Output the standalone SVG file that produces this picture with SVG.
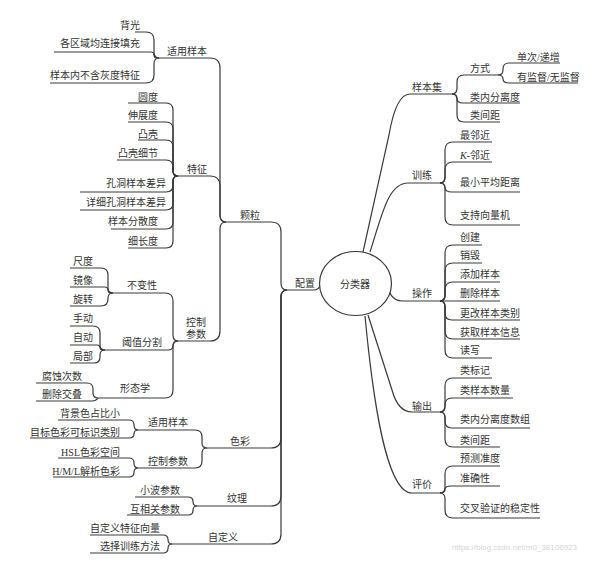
<svg xmlns="http://www.w3.org/2000/svg" width="612" height="564" viewBox="0 0 612 564">
<style>
text{font-family:"Liberation Serif","Noto Sans CJK SC",serif;font-size:10px;fill:#333}
.e{text-anchor:end}
#connectors path{fill:none;stroke:#3a3a3a;stroke-width:1.2}
.wm{font-family:"Liberation Sans",sans-serif;font-size:8px;fill:#d6d6d6}
</style>
<rect width="612" height="564" fill="#fff"/>
<g id="connectors">
<!-- root to level1 -->
<path d="M287,290 H314 Q318,290 320,286"/>
<path d="M363,252 L389,135 Q396,94 410,94 H452"/>
<path d="M370,252 C382,215 388,183 408,183 H440"/>
<path d="M389,291 Q393,301 402,301 H440"/>
<path d="M368,315 L392,390 Q398,412 412,412 H440"/>
<path d="M365,316 C372,390 385,493 412,493 H440"/>
<!-- 配置 children -->
<path d="M226,222 H271 Q281,222 281,232 V283 Q281,290 287,290"/>
<path d="M207,448 H271 Q281,448 281,438 V297 Q281,290 287,290"/>
<path d="M197,506 H271 Q281,506 281,496 V297 Q281,290 287,290"/>
<path d="M172,544 H271 Q281,544 281,534 V297 Q281,290 287,290"/>
<!-- 颗粒 children -->
<path d="M159,58 H210 Q220,58 220,68 V215 Q220,222 226,222"/>
<path d="M178,176 H210 Q220,176 220,186 V215 Q220,222 226,222"/>
<path d="M178,341 H210 Q220,341 220,331 V229 Q220,222 226,222"/>
<!-- 适用样本 children -->
<path d="M135,32 H146 Q154,32 154,40 V52 Q154,58 159,58"/>
<path d="M54,52 H151 Q154,52 154,55 Q154,58 157,58 H159"/>
<path d="M50,83 H146 Q154,83 154,75 V64 Q154,58 159,58"/>
<!-- 特征 children -->
<path d="M128,103 H166 Q173,103 173,110 V171 Q173,176 178,176"/>
<path d="M128,122 H166 Q173,122 173,129 V171 Q173,176 178,176"/>
<path d="M138,140 H166 Q173,140 173,147 V171 Q173,176 178,176"/>
<path d="M117,160 H166 Q173,160 173,167 V171 Q173,176 178,176"/>
<path d="M80,192 H166 Q173,192 173,185 V181 Q173,176 178,176"/>
<path d="M80,210 H166 Q173,210 173,203 V181 Q173,176 178,176"/>
<path d="M111,229 H166 Q173,229 173,222 V181 Q173,176 178,176"/>
<path d="M128,248 H166 Q173,248 173,241 V181 Q173,176 178,176"/>
<!-- 控制参数 children -->
<path d="M113,293 H165 Q173,293 173,301 V335 Q173,341 178,341"/>
<path d="M105,350 H168 Q173,350 173,345.5 Q173,341 178,341"/>
<path d="M98,398 H165 Q173,398 173,390 V347 Q173,341 178,341"/>
<!-- 不变性 children -->
<path d="M70,268 H101 Q108,268 108,275 V288 Q108,293 113,293"/>
<path d="M70,287 H105 Q108,287 108,290 Q108,293 111,293 H113"/>
<path d="M70,306 H101 Q108,306 108,299 V298 Q108,293 113,293"/>
<!-- 阈值分割 children -->
<path d="M70,326 H93 Q100,326 100,333 V345 Q100,350 105,350"/>
<path d="M70,345 H97 Q100,345 100,347.5 Q100,350 103,350 H105"/>
<path d="M70,363 H94 Q100,363 100,357 V355 Q100,350 105,350"/>
<!-- 形态学 children -->
<path d="M36,383 H87 Q93,383 93,389 V393 Q93,398 98,398"/>
<path d="M36,401 H92 Q96,401 98,398"/>
<!-- 色彩 children -->
<path d="M138,430 H195 Q202,430 202,437 V443 Q202,448 207,448"/>
<path d="M138,468 H195 Q202,468 202,461 V453 Q202,448 207,448"/>
<path d="M58,420 H129 Q134,420 134,425 Q134,430 138,430"/>
<path d="M30,438 H129 Q134,438 134,434 Q134,430 138,430"/>
<path d="M58,458 H129 Q134,458 134,463 Q134,468 138,468"/>
<path d="M53,477 H129 Q134,477 134,472.5 Q134,468 138,468"/>
<!-- 纹理 children -->
<path d="M135,497 H188 Q193,497 193,501.5 Q193,506 197,506"/>
<path d="M127,515 H188 Q193,515 193,510.5 Q193,506 197,506"/>
<!-- 自定义 children -->
<path d="M90,535 H163 Q168,535 168,539.5 Q168,544 172,544"/>
<path d="M90,553 H163 Q168,553 168,548.5 Q168,544 172,544"/>
<!-- 样本集 children -->
<path d="M452,94 Q457,94 457,88 V82 Q457,75 464,75 H498"/>
<path d="M452,94 Q457,94 457,98.5 Q457,103 463,103 H520"/>
<path d="M452,94 Q457,94 457,100 V115 Q457,122 464,122 H500"/>
<path d="M498,75 Q503,75 503,70 V69 Q503,63 509,63 H560"/>
<path d="M498,75 Q503,75 503,79 Q503,83 509,83 H578"/>
<!-- 训练 children -->
<path d="M440,183 Q445,183 445,177 V150 Q445,142 453,142 H492"/>
<path d="M440,183 Q445,183 445,177 V170 Q445,162 453,162 H492"/>
<path d="M440,183 Q445,183 445,187.5 Q445,192 452,192 H520"/>
<path d="M440,183 Q445,183 445,189 V217 Q445,225 453,225 H520"/>
<!-- 操作 children -->
<path d="M440,301 Q445,301 445,295 V253 Q445,245 453,245 H482"/>
<path d="M440,301 Q445,301 445,295 V271 Q445,263 453,263 H482"/>
<path d="M440,301 Q445,301 445,295 V290 Q445,282 453,282 H500"/>
<path d="M440,301 H500"/>
<path d="M440,301 Q445,301 445,306 V313 Q445,320 452,320 H520"/>
<path d="M440,301 Q445,301 445,307 V331 Q445,339 453,339 H520"/>
<path d="M440,301 Q445,301 445,307 V350 Q445,358 453,358 H492"/>
<!-- 输出 children -->
<path d="M440,412 Q445,412 445,406 V386 Q445,378 453,378 H492"/>
<path d="M440,412 Q445,412 445,406 V405 Q445,398 452,398 H513"/>
<path d="M440,412 Q445,412 445,417 V421 Q445,428 452,428 H530"/>
<path d="M440,412 Q445,412 445,418 V439 Q445,447 453,447 H500"/>
<!-- 评价 children -->
<path d="M440,493 Q445,493 445,487 V474 Q445,466 453,466 H500"/>
<path d="M440,493 Q445,493 445,489.5 Q445,486 451,486 H500"/>
<path d="M440,493 Q445,493 445,499 V510 Q445,518 453,518 H540"/>
</g>
<g id="root"><ellipse cx="355.5" cy="283.5" rx="36" ry="32" fill="#fff" stroke="#3a3a3a" stroke-width="1.2"/><text x="355" y="288" text-anchor="middle">分类器</text></g>
<g id="n-peizhi"><text x="295" y="287">配置</text></g>
<g id="n-keli"><text x="240" y="219">颗粒</text></g>
<g id="n-shiyong1"><text x="167" y="55">适用样本</text></g>
<g id="n-beiguang"><text class="e" x="140" y="29">背光</text></g>
<g id="n-gequyu"><text class="e" x="140" y="47">各区域均连接填充</text></g>
<g id="n-yangbennei"><text class="e" x="140" y="79">样本内不含灰度特征</text></g>
<g id="n-tezheng"><text x="187" y="173">特征</text></g>
<g id="n-yuandu"><text class="e" x="158" y="101">圆度</text></g>
<g id="n-shenzhan"><text class="e" x="158" y="119">伸展度</text></g>
<g id="n-tuke"><text class="e" x="158" y="138">凸壳</text></g>
<g id="n-tukexijie"><text class="e" x="158" y="157">凸壳细节</text></g>
<g id="n-kongdong"><text class="e" x="166" y="187">孔洞样本差异</text></g>
<g id="n-xiangxi"><text class="e" x="166" y="206">详细孔洞样本差异</text></g>
<g id="n-fensan"><text class="e" x="158" y="225">样本分散度</text></g>
<g id="n-xichang"><text class="e" x="158" y="245">细长度</text></g>
<g id="n-kongzhi1"><text x="186" y="326">控制</text><text x="186" y="338">参数</text></g>
<g id="n-bubian"><text x="127" y="289">不变性</text></g>
<g id="n-chidu"><text x="73" y="265">尺度</text></g>
<g id="n-jingxiang"><text x="73" y="284">镜像</text></g>
<g id="n-xuanzhuan"><text x="73" y="303">旋转</text></g>
<g id="n-yuzhi"><text x="122" y="346">阈值分割</text></g>
<g id="n-shoudong"><text x="73" y="322">手动</text></g>
<g id="n-zidong"><text x="73" y="341">自动</text></g>
<g id="n-jubu"><text x="73" y="360">局部</text></g>
<g id="n-xingtai"><text x="120" y="392">形态学</text></g>
<g id="n-fushi"><text x="42" y="380">腐蚀次数</text></g>
<g id="n-shanchu"><text x="42" y="398">删除交叠</text></g>
<g id="n-secai"><text x="230" y="445">色彩</text></g>
<g id="n-shiyong2"><text x="148" y="426">适用样本</text></g>
<g id="n-beijing"><text class="e" x="120" y="417">背景色占比小</text></g>
<g id="n-mubiao"><text class="e" x="120" y="436">目标色彩可标识类别</text></g>
<g id="n-kongzhi2"><text x="148" y="465">控制参数</text></g>
<g id="n-hsl"><text class="e" x="120" y="456">HSL色彩空间</text></g>
<g id="n-hml"><text class="e" x="120" y="475">H/M/L解析色彩</text></g>
<g id="n-wenli"><text x="227" y="502">纹理</text></g>
<g id="n-xiaobo"><text class="e" x="180" y="494">小波参数</text></g>
<g id="n-huxiang"><text class="e" x="180" y="513">互相关参数</text></g>
<g id="n-zidingyi"><text x="208" y="541">自定义</text></g>
<g id="n-tezhengxl"><text class="e" x="160" y="532">自定义特征向量</text></g>
<g id="n-xuanze"><text class="e" x="160" y="550">选择训练方法</text></g>
<g id="n-yangbenji"><text x="412" y="91">样本集</text></g>
<g id="n-fangshi"><text x="470" y="72">方式</text></g>
<g id="n-danci"><text x="517" y="61">单次/递增</text></g>
<g id="n-jiandu"><text x="517" y="81">有监督/无监督</text></g>
<g id="n-leinei1"><text x="470" y="101">类内分离度</text></g>
<g id="n-leijian1"><text x="470" y="119">类间距</text></g>
<g id="n-xunlian"><text x="412" y="179">训练</text></g>
<g id="n-zuilin"><text x="460" y="139">最邻近</text></g>
<g id="n-klin"><text x="460" y="159"><tspan font-style="italic">K</tspan>-邻近</text></g>
<g id="n-zuixiao"><text x="460" y="186">最小平均距离</text></g>
<g id="n-svm"><text x="460" y="219">支持向量机</text></g>
<g id="n-caozuo"><text x="412" y="297">操作</text></g>
<g id="n-chuangjian"><text x="460" y="241">创建</text></g>
<g id="n-xiaohui"><text x="460" y="259">销毁</text></g>
<g id="n-tianjia"><text x="460" y="278">添加样本</text></g>
<g id="n-shanchuyb"><text x="460" y="297">删除样本</text></g>
<g id="n-genggai"><text x="460" y="317">更改样本类别</text></g>
<g id="n-huoqu"><text x="460" y="336">获取样本信息</text></g>
<g id="n-duxie"><text x="460" y="354">读写</text></g>
<g id="n-shuchu"><text x="412" y="410">输出</text></g>
<g id="n-leibiao"><text x="460" y="374">类标记</text></g>
<g id="n-leiyangben"><text x="460" y="394">类样本数量</text></g>
<g id="n-leinei2"><text x="460" y="423">类内分离度数组</text></g>
<g id="n-leijian2"><text x="460" y="444">类间距</text></g>
<g id="n-pingjia"><text x="412" y="488">评价</text></g>
<g id="n-yuce"><text x="460" y="462">预测准度</text></g>
<g id="n-zhunque"><text x="460" y="482">准确性</text></g>
<g id="n-jiaocha"><text x="460" y="512">交叉验证的稳定性</text></g>
<text class="wm" x="452" y="550">https://blog.csdn.net/m0_38106923</text>
</svg>
